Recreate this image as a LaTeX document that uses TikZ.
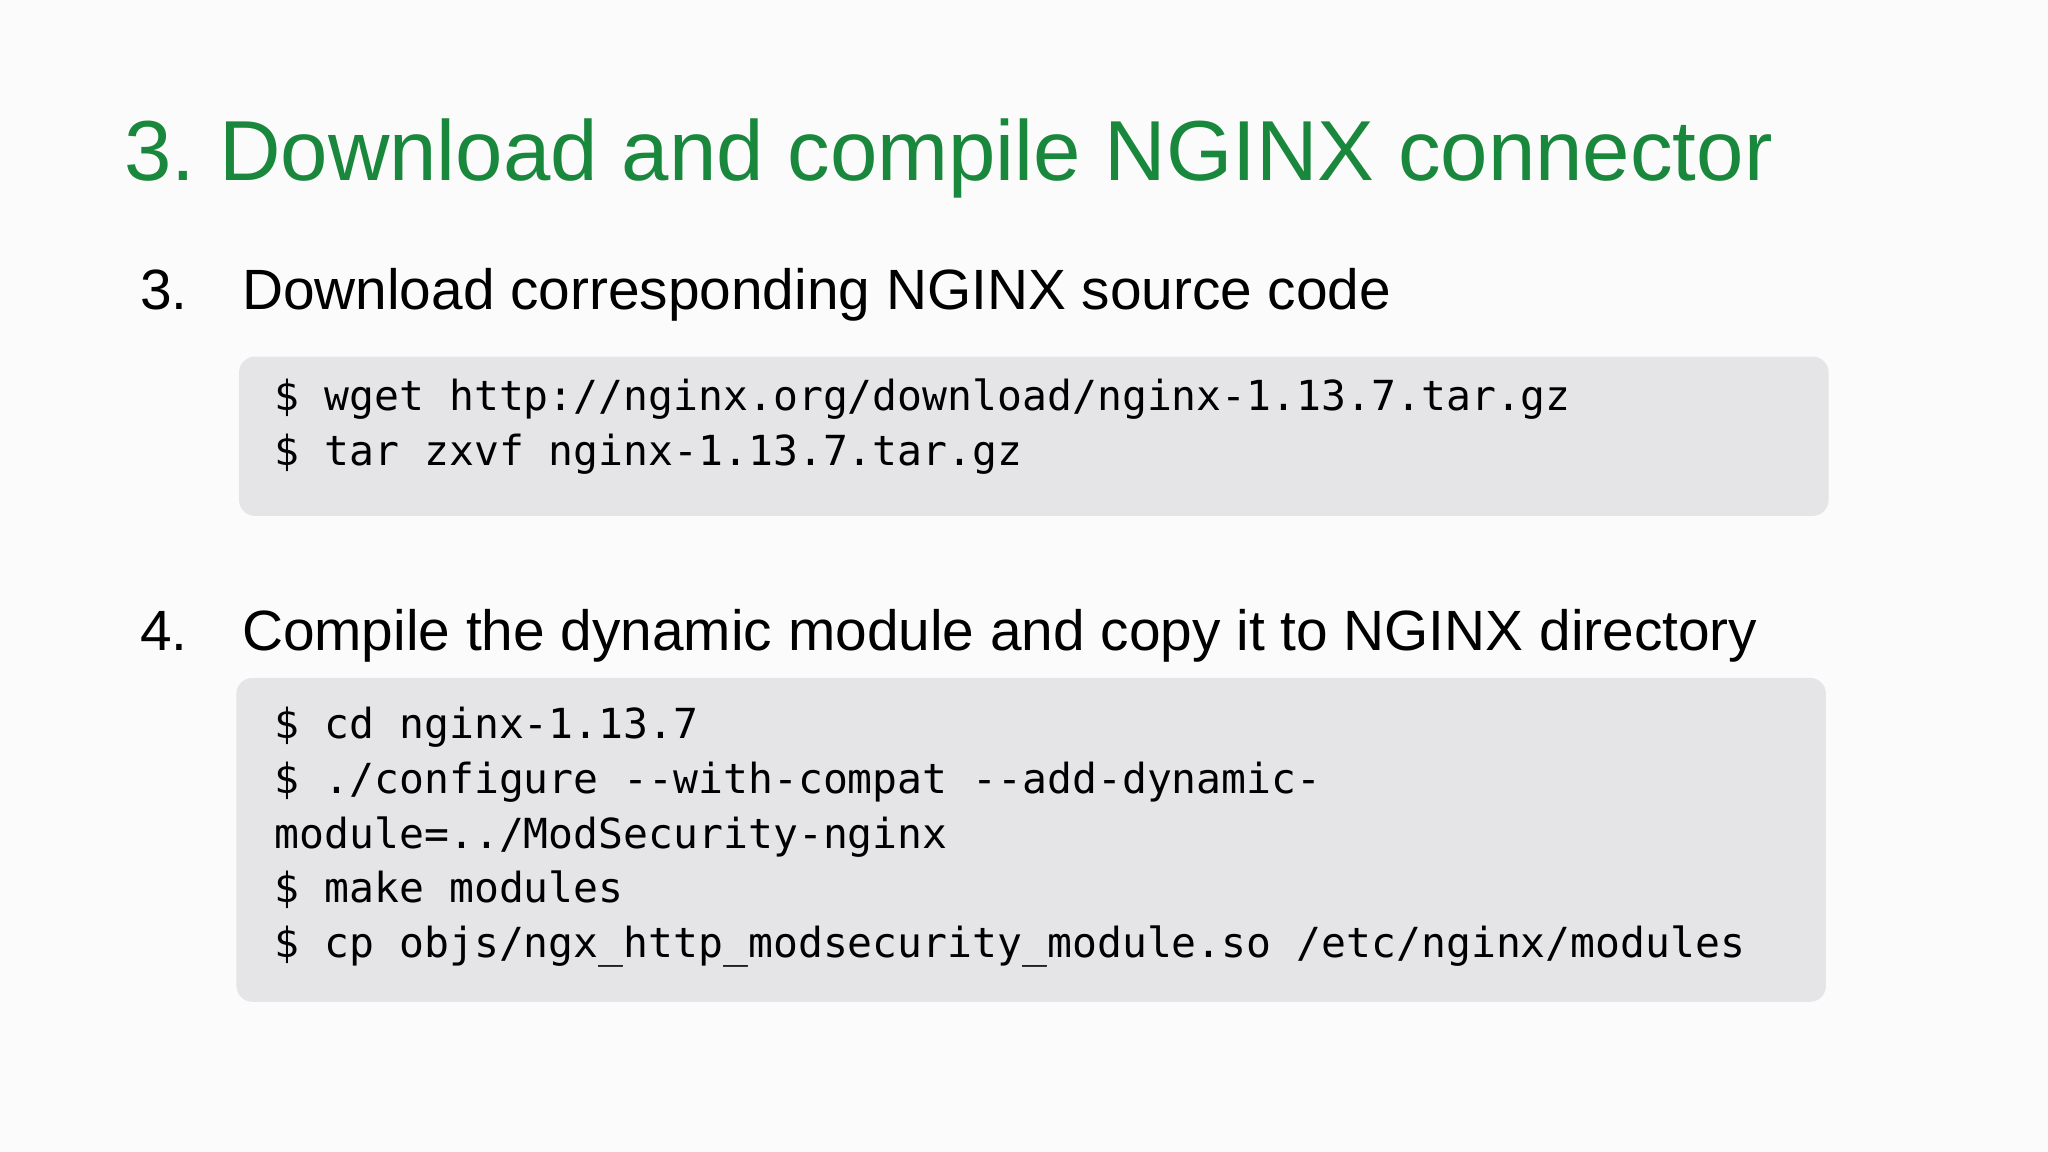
\documentclass[tikz,border=0pt]{standalone}
\usepackage{fontspec}
\setmainfont{Liberation Sans}
\setmonofont{DejaVu Sans Mono}
\definecolor{ttl}{RGB}{26,136,60}
\definecolor{codebg}{RGB}{229,229,231}
\frenchspacing
\begin{document}
\begin{tikzpicture}[x=0.653pt,y=-0.653pt,
  codebox/.style={fill=codebg,rounded corners=8pt,draw=none},
  item/.style={anchor=base west,font=\fontsize{28.4}{32}\selectfont,text=black,inner sep=0},
  code/.style={anchor=north west,align=left,inner sep=0,font=\ttfamily\fontsize{20.7}{27.4}\selectfont}]
\useasboundingbox (0,0) rectangle (1568,882);
\fill[white!97!gray] (0,0) rectangle (1568,882);
\node[anchor=base west,inner sep=0,text=ttl,font=\fontsize{42.6}{50}\selectfont] (title) at (95,138) {3. Download and compile NGINX connector};
\node[item] (n3) at (107,237) {3.};
\node[item] (t3) at (185,237) {Download corresponding NGINX source code};
\fill[codebox] (183,273) rectangle (1400,395);
\node[code] (c1) at (210,290) {\$ wget http://nginx.org/download/nginx-1.13.7.tar.gz\\\$ tar zxvf nginx-1.13.7.tar.gz};
\node[item] (n4) at (107,498) {4.};
\node[item] (t4) at (185,498) {Compile the dynamic module and copy it to NGINX directory};
\fill[codebox] (181,519) rectangle (1398,767);
\node[code] (c2) at (210,541) {\$ cd nginx-1.13.7\\\$ ./configure --with-compat --add-dynamic-\\module=../ModSecurity-nginx\\\$ make modules\\\$ cp objs/ngx\_http\_modsecurity\_module.so /etc/nginx/modules};
\end{tikzpicture}
\end{document}
